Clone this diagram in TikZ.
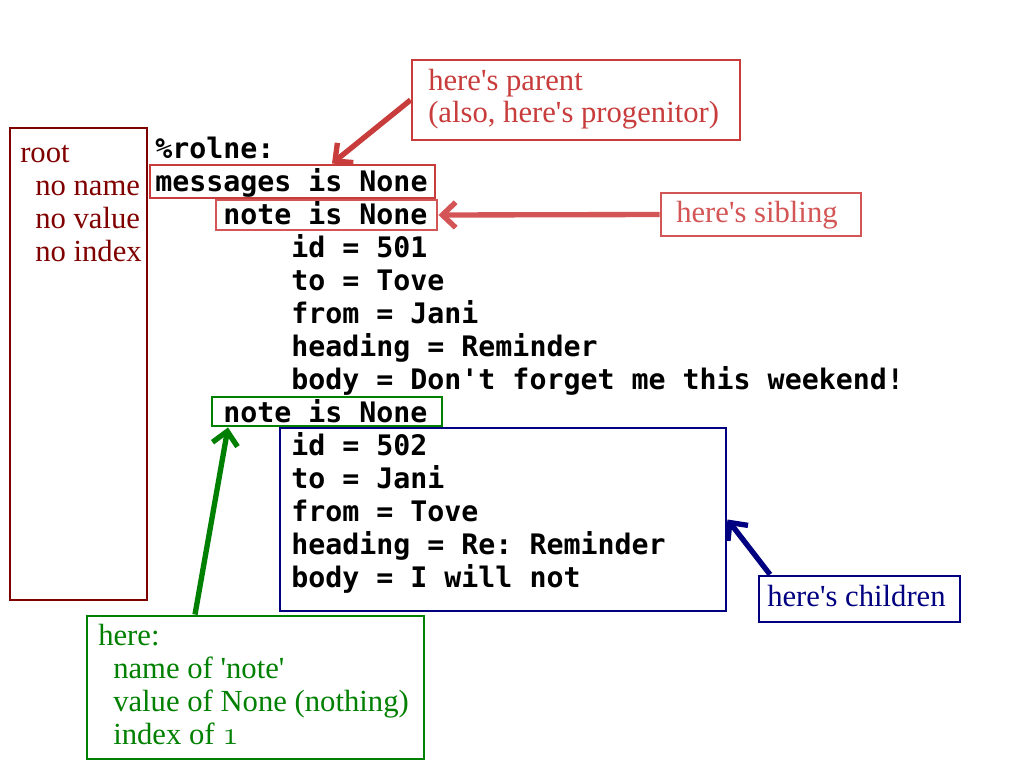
\documentclass[tikz,border=0pt]{standalone}
\usepackage{fontspec}
\setmainfont{Liberation Serif}
\setmonofont{DejaVu Sans Mono}
\usetikzlibrary{arrows.meta,fit}
\definecolor{rootc}{RGB}{128,0,0}
\definecolor{parc}{RGB}{200,60,60}
\definecolor{sibc}{RGB}{212,85,85}
\definecolor{grnc}{RGB}{0,128,0}
\definecolor{navc}{RGB}{0,0,128}
\newcommand{\osone}{{\fontencoding{OML}\fontfamily{cmm}\fontshape{it}\selectfont 1}}
\tikzset{
  box/.style={draw=#1, line width=2.2pt, inner sep=0pt, fill=none},
  code/.style={font=\ttfamily\bfseries\fontsize{21.2}{24.75}\selectfont, anchor=base west, inner sep=0pt},
  lab/.style={text=#1, font=\fontsize{23}{24.75}\selectfont, anchor=base west, inner sep=0pt},
  arr/.style={draw=#1, line width=4pt, -{Straight Barb[length=10pt,width=19pt]}}
}
\begin{document}
\begin{tikzpicture}[x=0.75pt,y=-0.75pt]
\useasboundingbox[fill=white] (0,0) rectangle (1024,768);

% code listing
\node[code] (l0)  at (155,158) {\%rolne:};
\node[code] (l1)  at (155,191) {messages is None};
\node[code] (l2)  at (223,224) {note is None};
\node[code] (l3)  at (291,257) {id = 501};
\node[code] (l4)  at (291,290) {to = Tove};
\node[code] (l5)  at (291,323) {from = Jani};
\node[code] (l6)  at (291,356) {heading = Reminder};
\node[code] (l7)  at (291,389) {body = Don't forget me this weekend!};
\node[code] (l8)  at (223,422) {note is None};
\node[code] (l9)  at (291,455) {id = 502};
\node[code] (l10) at (291,488) {to = Jani};
\node[code] (l11) at (291,521) {from = Tove};
\node[code] (l12) at (291,554) {heading = Re: Reminder};
\node[code] (l13) at (291,587) {body = I will not};

% root box
\node[box=rootc, fit={(10,128) (147,600)}] (rbox) {};
\node[lab=rootc] (r0) at (20,162) {root};
\node[lab=rootc] (r1) at (35,195) {no name};
\node[lab=rootc] (r2) at (35,228) {no value};
\node[lab=rootc] (r3) at (35,261) {no index};

% parent
\node[box=parc, fit={(412,60) (740,140)}] (pbox) {};
\node[lab=parc] (p0) at (428,90) {here\textquotesingle s parent};
\node[lab=parc] (p1) at (428,122) {(also, here\textquotesingle s progenitor)};
\node[box=parc, fit={(150,165) (435,198)}] (mbox) {};

% sibling
\node[box=sibc, fit={(216,200) (437,230)}] (nbox1) {};
\node[box=sibc, fit={(661,193) (861,236)}] (sbox) {};
\node[lab=sibc] (s0) at (676,222) {here\textquotesingle s sibling};

% green
\node[box=grnc, fit={(212,397) (442,426)}] (nbox2) {};
\node[box=grnc, fit={(87,616) (424,759)}] (gbox) {};
\node[lab=grnc] (g0) at (98,645) {here:};
\node[lab=grnc] (g1) at (113,678) {name of \textquotesingle note\textquotesingle};
\node[lab=grnc] (g2) at (113,711) {value of None (nothing)};
\node[lab=grnc] (g3) at (113,744) {index of \osone};

% blue
\node[box=navc, fit={(280,428) (726,611)}] (bbox) {};
\node[box=navc, fit={(759,576) (960,622)}] (cbox) {};
\node[lab=navc] (c0) at (767,606) {here\textquotesingle s children};

% arrows
\draw[arr=parc] (pbox.west) -- (mbox.north -| 332,0) ;
\draw[arr=sibc] (sbox.west) -- (nbox1.east);
\draw[arr=grnc] (gbox.north -| 195,0) -- (nbox2.south -| 228,0);
\draw[arr=navc] (cbox.north west -| 770,0) -- (bbox.east);
\end{tikzpicture}
\end{document}
